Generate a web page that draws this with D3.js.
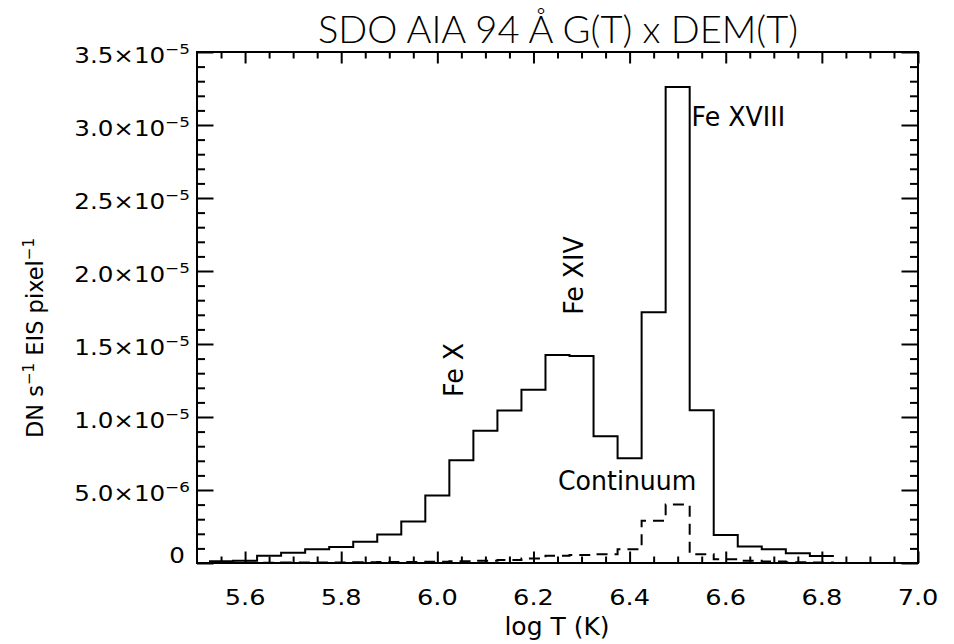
<!DOCTYPE html>
<html>
<head>
<meta charset="utf-8">
<script src="https://cdn.jsdelivr.net/npm/d3@7"></script>
<style>
  body { margin: 0; background: #fff; }
  svg { display: block; }
  text { font-family: "DejaVu Sans", "Liberation Sans", sans-serif; fill: #000; }
  .title { font-family: Lato, "Open Sans", "Liberation Sans", sans-serif; font-weight: 300; }
</style>
</head>
<body>
<svg id="chart" width="954" height="644"></svg>
<script>
// Temperature bins (log T, K) of the emission measure distribution
const logT = [5.55, 5.60, 5.65, 5.70, 5.75, 5.80, 5.85, 5.90, 5.95, 6.00,
              6.05, 6.10, 6.15, 6.20, 6.25, 6.30, 6.35, 6.40, 6.45, 6.50,
              6.55, 6.60, 6.65, 6.70, 6.75, 6.80];

// G(T) x DEM(T) for the full AIA 94 band (DN s^-1 EIS pixel^-1)
const totalGT = [1.2e-7, 1.5e-7, 4.9e-7, 7.1e-7, 9.5e-7, 1.10e-6, 1.46e-6, 1.95e-6, 2.85e-6, 4.62e-6,
                 7.04e-6, 9.06e-6, 1.045e-5, 1.186e-5, 1.425e-5, 1.417e-5, 8.68e-6, 7.17e-6, 1.717e-5, 3.26e-5,
                 1.047e-5, 1.92e-6, 1.13e-6, 9.4e-7, 6.6e-7, 4.8e-7];

// Continuum contribution
const continuumGT = [2e-8, 2e-8, 2e-8, 3e-8, 3e-8, 4e-8, 5e-8, 6e-8, 7e-8, 8e-8,
                     1.2e-7, 1.5e-7, 2.0e-7, 3.0e-7, 5.0e-7, 5.5e-7, 6.0e-7, 9.5e-7, 2.9e-6, 4.0e-6,
                     6.0e-7, 2.5e-7, 1.5e-7, 1.0e-7, 5e-8, 3e-8];

// Axis ticks and their labels
const xMajorTicks = [5.6, 5.8, 6.0, 6.2, 6.4, 6.6, 6.8, 7.0];
const xTickLabels = ["5.6", "5.8", "6.0", "6.2", "6.4", "6.6", "6.8", "7.0"];
const yMajorTicks = [0, 5e-6, 1.0e-5, 1.5e-5, 2.0e-5, 2.5e-5, 3.0e-5, 3.5e-5];
const yTickMantissa = ["0", "5.0", "1.0", "1.5", "2.0", "2.5", "3.0", "3.5"];
const yTickExponent = ["", "−6", "−5", "−5", "−5", "−5", "−5", "−5"];

// Line annotations (position of the text baseline in data units)
const annotations = [
  { text: "Fe X",      logT: 6.053, value: 1.322e-5, rotate: -90 },
  { text: "Fe XIV",    logT: 6.303, value: 1.969e-5, rotate: -90 },
  { text: "Fe XVIII",  logT: 6.529, value: 2.993e-5, rotate: 0 },
  { text: "Continuum", logT: 6.251, value: 5.0e-6,   rotate: 0 }
];

const svg = d3.select("#chart");
const frame = { left: 197, right: 918, top: 52, bottom: 563 };

const x = d3.scaleLinear().domain([5.5, 7.0]).range([frame.left, frame.right]);
const y = d3.scaleLinear().domain([0, 3.5e-5]).range([frame.bottom, frame.top]);

const xMinor = d3.range(5.55, 7.0, 0.05).filter(v => !xMajorTicks.some(m => Math.abs(m - v) < 1e-6));
const yMinor = d3.range(1e-6, 3.5e-5, 1e-6).filter(v => !yMajorTicks.some(m => Math.abs(m - v) < 1e-9));

// Text helper: optional horizontal stretch to mimic the plotting font
function label(parent, opts) {
  const { px, py, size, sx = 1, anchor = "start", rotate = 0 } = opts;
  const g = parent.append("g")
    .attr("transform", `translate(${px},${py}) rotate(${rotate}) scale(${sx},1)`);
  return g.append("text")
    .attr("font-size", size)
    .attr("text-anchor", anchor);
}

// Inward ticks on all four sides of the box
function tickAxis(axisFn, scale, values, size, transform) {
  svg.append("g")
    .attr("transform", transform)
    .call(axisFn(scale).tickValues(values).tickSize(size).tickFormat(""))
    .call(g => g.select(".domain").remove())
    .call(g => g.selectAll("line").attr("stroke", "#000").attr("stroke-width", 2));
}
tickAxis(d3.axisBottom, x, xMajorTicks, -11.5, `translate(0,${frame.bottom})`);
tickAxis(d3.axisBottom, x, xMinor, -6.5, `translate(0,${frame.bottom})`);
tickAxis(d3.axisTop, x, xMajorTicks, -11.5, `translate(0,${frame.top})`);
tickAxis(d3.axisTop, x, xMinor, -6.5, `translate(0,${frame.top})`);
tickAxis(d3.axisLeft, y, yMajorTicks, -16.5, `translate(${frame.left},0)`);
tickAxis(d3.axisLeft, y, yMinor, -8, `translate(${frame.left},0)`);
tickAxis(d3.axisRight, y, yMajorTicks, -16.5, `translate(${frame.right},0)`);
tickAxis(d3.axisRight, y, yMinor, -8, `translate(${frame.right},0)`);

// Frame
svg.append("rect")
  .attr("x", frame.left).attr("y", frame.top)
  .attr("width", frame.right - frame.left).attr("height", frame.bottom - frame.top)
  .attr("fill", "none").attr("stroke", "#000").attr("stroke-width", 2);

// Histogram-style step line centred on each bin
const halfBin = 0.025;
function stepPoints(values) {
  const pts = logT.map((t, i) => [t - halfBin, values[i]]);
  pts.push([logT[logT.length - 1] + halfBin, values[values.length - 1]]);
  return pts;
}
const stepLine = d3.line().x(d => x(d[0])).y(d => y(d[1])).curve(d3.curveStepAfter);

svg.append("path")
  .attr("d", stepLine(stepPoints(totalGT)))
  .attr("fill", "none").attr("stroke", "#000").attr("stroke-width", 2);

svg.append("path")
  .attr("d", stepLine(stepPoints(continuumGT)))
  .attr("fill", "none").attr("stroke", "#000").attr("stroke-width", 2)
  .attr("stroke-dasharray", "11,7");

// X tick labels
xMajorTicks.forEach((t, i) => {
  label(svg, { px: x(t), py: 605, size: 20.5, sx: 1.25, anchor: "middle" }).text(xTickLabels[i]);
});

// Y tick labels with powers of ten
yMajorTicks.forEach((t, i) => {
  if (yTickExponent[i] === "") {
    label(svg, { px: 185, py: y(t), size: 20.5, sx: 1.2, anchor: "end" }).text(yTickMantissa[i]);
  } else {
    const txt = label(svg, { px: 190, py: y(t) + 11, size: 20.5, sx: 1.2, anchor: "end" });
    txt.append("tspan").text(yTickMantissa[i] + "×10");
    txt.append("tspan").attr("dy", -9).attr("font-size", 14).text(yTickExponent[i]);
  }
});

// Title and axis titles
label(svg, { px: 558, py: 43, size: 38, anchor: "middle" })
  .attr("class", "title").attr("textLength", 480).attr("lengthAdjust", "spacingAndGlyphs")
  .text("SDO AIA 94 Å G(T) x DEM(T)");
label(svg, { px: 557, py: 635, size: 25, anchor: "middle" }).text("log T (K)");

const yt = label(svg, { px: 43, py: 338, size: 22.5, rotate: -90, anchor: "middle" });
yt.append("tspan").text("DN s");
yt.append("tspan").attr("dy", -9).attr("font-size", 15).text("−1");
yt.append("tspan").attr("dy", 9).text(" EIS pixel");
yt.append("tspan").attr("dy", -9).attr("font-size", 15).text("−1");

// Annotations next to the emission features
annotations.forEach(a => {
  const anchor = a.rotate ? "middle" : "start";
  label(svg, { px: x(a.logT), py: y(a.value), size: 26, sx: 0.97, rotate: a.rotate, anchor })
    .text(a.text);
});
</script>
</body>
</html>
